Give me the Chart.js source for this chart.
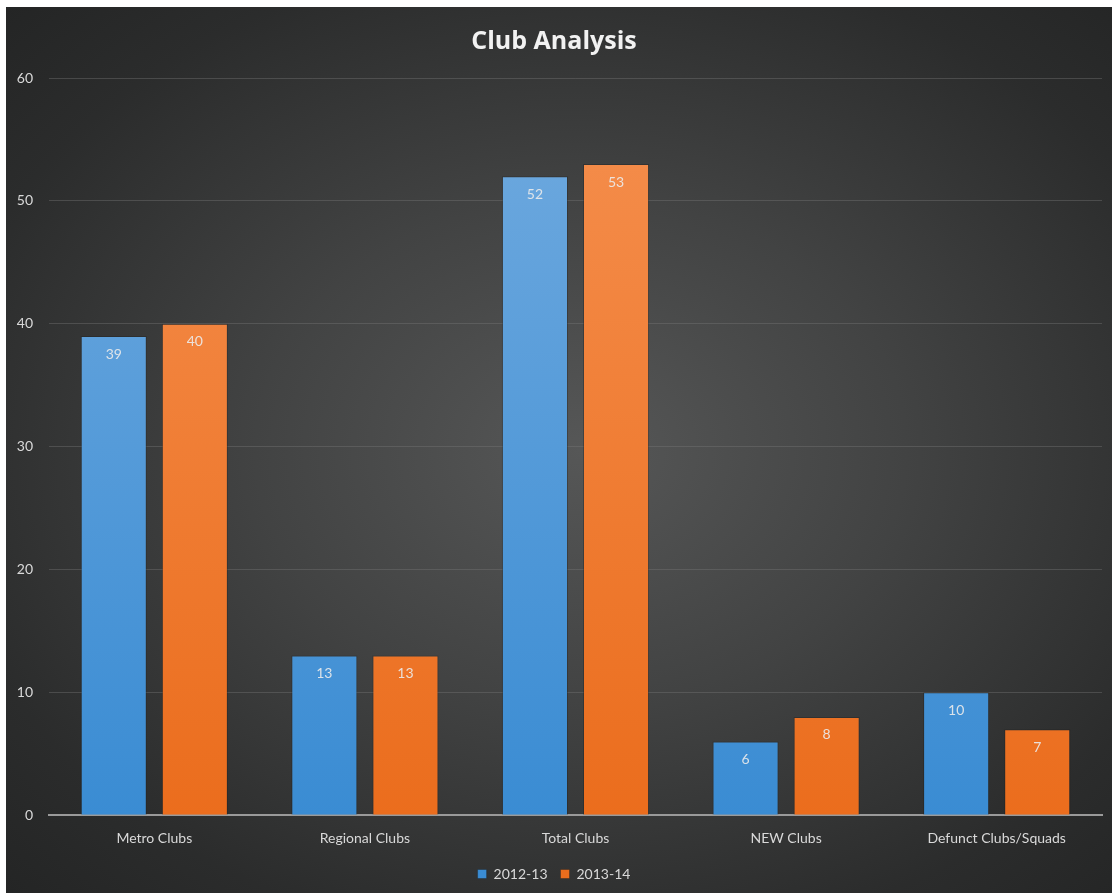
<!DOCTYPE html>
<html>
<head>
<meta charset="utf-8">
<script src="https://cdn.jsdelivr.net/npm/chart.js@4"></script>
<style>
  html, body { margin: 0; padding: 0; background: #ffffff; }
  #wrap {
    position: absolute; left: 6px; top: 7px; width: 1106px; height: 886px;
    background: radial-gradient(ellipse at 52% 50%, #565757 0%, #424343 40%, #2b2c2c 80%, #242525 100%);
  }
</style>
</head>
<body>
<div id="wrap"><canvas id="chart"></canvas></div>
<script>
// Chart data
const categories = ["Metro Clubs", "Regional Clubs", "Total Clubs", "NEW Clubs", "Defunct Clubs/Squads"];
const season1 = [39, 13, 52, 6, 10];
const season2 = [40, 13, 53, 8, 7];
const seriesNames = ["2012-13", "2013-14"];
const yTicks = [0, 10, 20, 30, 40, 50, 60];

const FONT = "Lato, 'Open Sans', sans-serif";
const TEXT = "#d9d9d9";

function barGradient(top, bottom) {
  return function (context) {
    let area = context.chart.chartArea;
    if (!area) return bottom;
    let g = context.chart.ctx.createLinearGradient(0, area.top, 0, area.bottom);
    g.addColorStop(0, top);
    g.addColorStop(1, bottom);
    return g;
  };
}

// Value labels just under the top of each bar
const valueLabels = {
  id: "valueLabels",
  afterDatasetsDraw(chart) {
    let ctx = chart.ctx;
    ctx.save();
    ctx.font = "14px " + FONT;
    ctx.fillStyle = "rgba(235,235,235,0.9)";
    ctx.textAlign = "center";
    ctx.textBaseline = "middle";
    chart.data.datasets.forEach((ds, i) => {
      chart.getDatasetMeta(i).data.forEach((bar, j) => {
        ctx.fillText(ds.data[j], bar.x, bar.y + 18);
      });
    });
    ctx.restore();
  }
};

new Chart(document.getElementById("chart"), {
  type: "bar",
  data: {
    labels: categories,
    datasets: [
      {
        label: seriesNames[0],
        data: season1,
        backgroundColor: barGradient("#70aadf", "#3a8cd3"),
        borderColor: "rgba(30,30,30,0.35)",
        borderWidth: 1
      },
      {
        label: seriesNames[1],
        data: season2,
        backgroundColor: barGradient("#f58f4e", "#eb6d1d"),
        borderColor: "rgba(30,30,30,0.35)",
        borderWidth: 1
      }
    ]
  },
  options: {
    responsive: true,
    maintainAspectRatio: false,
    animation: false,
    datasets: { bar: { categoryPercentage: 0.77, barPercentage: 0.815 } },
    layout: { padding: { left: 0, right: 10, top: 14, bottom: 2 } },
    plugins: {
      title: {
        display: true,
        text: "Club Analysis",
        color: "#f2f2f2",
        font: { family: "'Open Sans', Lato, sans-serif", size: 25, weight: "bold" },
        padding: { top: 6, bottom: 21 }
      },
      legend: {
        position: "bottom",
        labels: {
          color: TEXT,
          font: { family: FONT, size: 14 },
          boxWidth: 9,
          boxHeight: 9,
          padding: 13
        }
      },
      tooltip: { enabled: false }
    },
    scales: {
      x: {
        grid: { display: false },
        border: { color: "#9a9a9a", width: 2 },
        ticks: { color: TEXT, font: { family: FONT, size: 14 }, padding: 7 }
      },
      y: {
        min: 0,
        max: 60,
        afterFit: scale => { scale.width = 43; },
        afterBuildTicks: scale => { scale.ticks = yTicks.map(v => ({ value: v })); },
        grid: { color: "rgba(120,120,120,0.4)", drawTicks: false },
        border: { display: false },
        ticks: { color: TEXT, font: { family: FONT, size: 14 }, padding: 16 }
      }
    }
  },
  plugins: [valueLabels]
});
</script>
</body>
</html>
